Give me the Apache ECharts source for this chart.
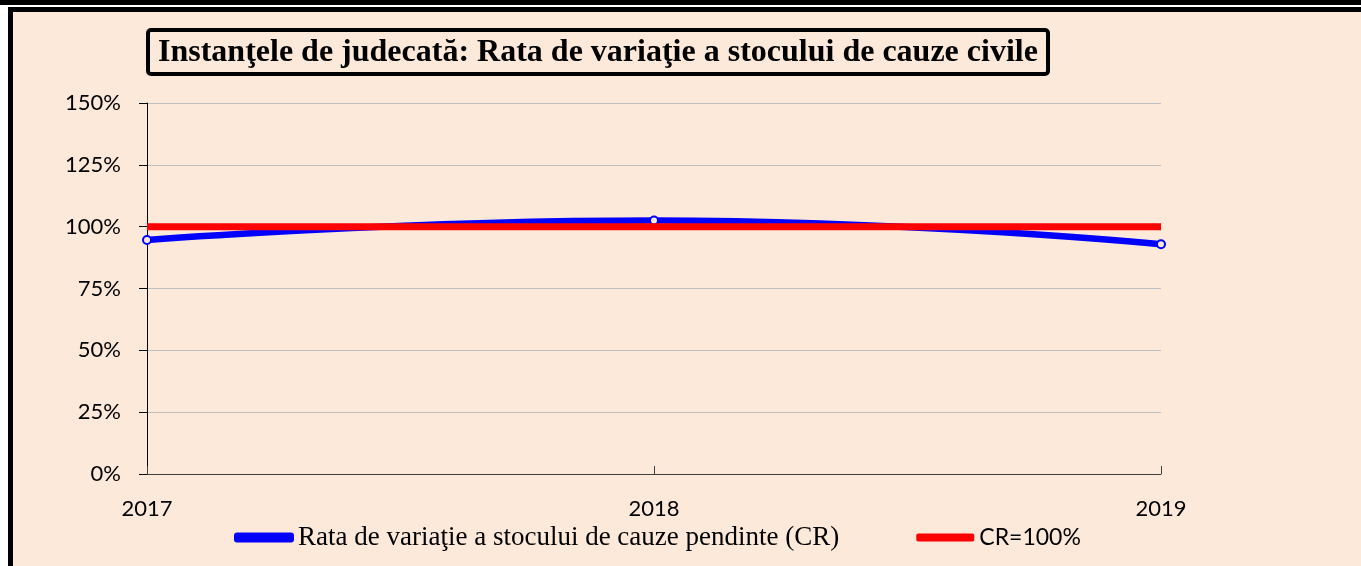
<!DOCTYPE html>
<html>
<head>
    <meta charset="utf-8">
    <title>Rata de variatie</title>
    <script src="https://cdn.jsdelivr.net/npm/echarts@6/dist/echarts.min.js"></script>
</head>
<body style="margin:0;background:#ffffff">
<div id="main" style="width:1361px;height:566px;"></div>
<script type="text/javascript">
    // date
    var years = ['2017', '2018', '2019'];
    var rataCR = [94.6, 102.5, 92.9];
    var prag = [100, 100, 100];
    var yTicks = [0, 25, 50, 75, 100, 125, 150];

    var numeSerie1 = 'Rata de variaţie a stocului de cauze pendinte (CR)';
    var numeSerie2 = 'CR=100%';

    var myChart = echarts.init(document.getElementById('main'));

    myChart.setOption({
        backgroundColor: '#ffffff',
        animation: false,
        graphic: [
            {type: 'rect', shape: {x: 0, y: 0, width: 1361, height: 5}, style: {fill: '#000'}, z: -10},
            {type: 'rect', shape: {x: 10.5, y: 9.5, width: 1400, height: 600},
                style: {fill: '#FDE9D9', stroke: '#000', lineWidth: 5}, z: -10}
        ],
        title: {
            text: 'Instanţele de judecată: Rata de variaţie a stocului de cauze civile',
            left: 148,
            top: 30,
            padding: [7, 10, 5, 10],
            borderColor: '#000',
            borderWidth: 4,
            borderRadius: 3,
            textStyle: {
                fontFamily: 'Liberation Serif',
                fontWeight: 'bold',
                fontSize: 32,
                color: '#000'
            }
        },
        grid: {left: 147, right: 200, top: 103, bottom: 92},
        legend: {
            left: 234,
            top: 524,
            padding: 0,
            itemWidth: 58,
            itemHeight: 8,
            itemGap: 77,
            data: [
                {name: numeSerie1, icon: 'roundRect', itemStyle: {color: '#0000FF'}},
                {name: numeSerie2, icon: 'roundRect', itemStyle: {color: '#FF0000'}}
            ],
            formatter: function (name) {
                return name === numeSerie2 ? '{c|' + name + '}' : '{s|' + name + '}';
            },
            textStyle: {
                color: '#000',
                rich: {
                    s: {fontFamily: 'Liberation Serif', fontSize: 27, color: '#000'},
                    c: {fontFamily: 'Lato', fontSize: 23, color: '#000'}
                }
            }
        },
        xAxis: {
            type: 'category',
            data: years,
            boundaryGap: false,
            axisLine: {lineStyle: {color: '#404040', width: 1}},
            axisTick: {show: true, inside: true, length: 8, lineStyle: {color: '#404040'}},
            axisLabel: {fontFamily: 'Lato', fontSize: 22, color: '#000', margin: 24}
        },
        yAxis: {
            type: 'value',
            min: yTicks[0],
            max: yTicks[yTicks.length - 1],
            interval: 25,
            axisLine: {show: true, lineStyle: {color: '#000', width: 1}},
            axisTick: {show: true, length: 8, lineStyle: {color: '#000'}},
            axisLabel: {fontFamily: 'Lato', fontSize: 22, color: '#000', margin: 26,
                formatter: '{value}%'},
            splitLine: {lineStyle: {color: '#BFBFBF', width: 1}}
        },
        series: [
            {
                name: numeSerie1,
                type: 'line',
                data: rataCR,
                smooth: true,
                symbol: 'circle',
                symbolSize: 8,
                color: '#0000FF',
                lineStyle: {width: 6.5, color: '#0000FF'},
                itemStyle: {color: '#FDE9D9', borderColor: '#0000FF', borderWidth: 2},
                z: 2
            },
            {
                name: numeSerie2,
                type: 'line',
                data: prag,
                symbol: 'none',
                color: '#FF0000',
                lineStyle: {width: 7, color: '#FF0000'},
                z: 3
            }
        ]
    });
</script>
</body>
</html>
